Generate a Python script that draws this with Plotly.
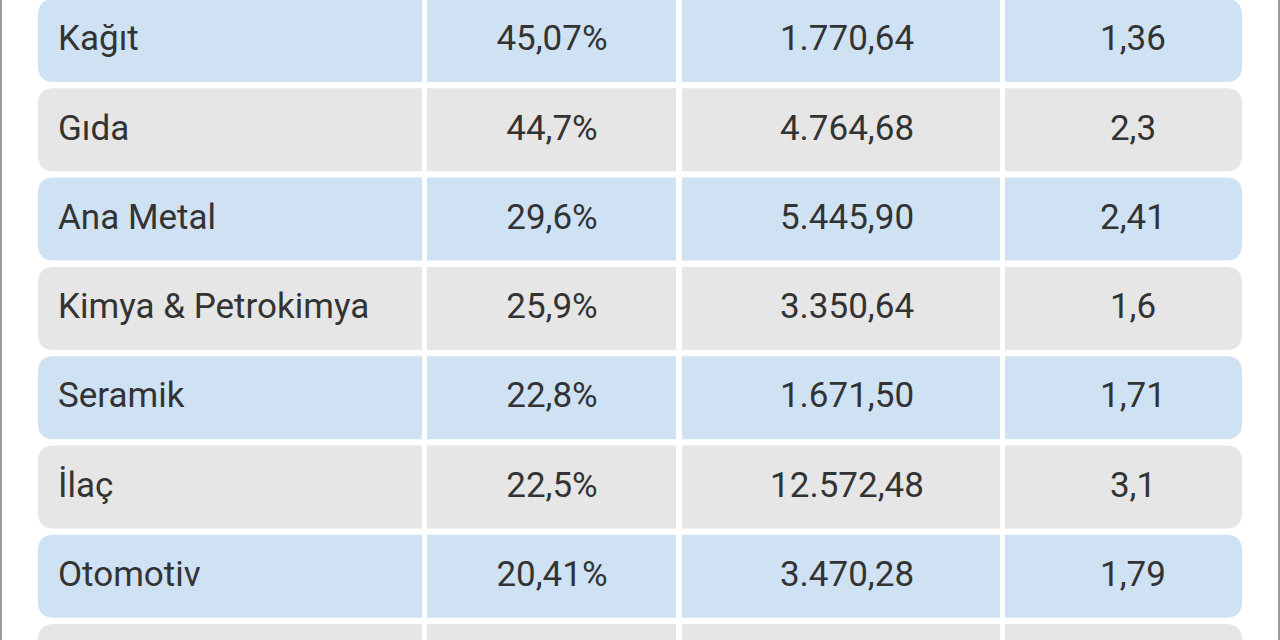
import plotly.graph_objects as go

sectors = ["Kağıt", "Gıda", "Ana Metal", "Kimya & Petrokimya", "Seramik", "İlaç", "Otomotiv", ""]
col2 = ["45,07%", "44,7%", "29,6%", "25,9%", "22,8%", "22,5%", "20,41%", ""]
col3 = ["1.770,64", "4.764,68", "5.445,90", "3.350,64", "1.671,50", "12.572,48", "3.470,28", ""]
col4 = ["1,36", "2,3", "2,41", "1,6", "1,71", "3,1", "1,79", ""]

BLUE = "#cfe2f3"
GRAY = "#e6e6e6"
col_bounds = [(38, 422), (427, 676), (682, 1000), (1005, 1242)]
text_x = [58, 552, 847, 1133]
pitch, height, top0, r = 89.3, 83, -1, 16

def rect_path(x0, x1, y0, y1, rl, rr):
    p = f"M {x0+rl},{y0} L {x1-rr},{y0} "
    p += f"Q {x1},{y0} {x1},{y0+rr} " if rr else ""
    p += f"L {x1},{y1-rr} "
    p += f"Q {x1},{y1} {x1-rr},{y1} " if rr else ""
    p += f"L {x0+rl},{y1} "
    p += f"Q {x0},{y1} {x0},{y1-rl} " if rl else ""
    p += f"L {x0},{y0+rl} "
    p += f"Q {x0},{y0} {x0+rl},{y0} " if rl else ""
    return p + "Z"

shapes = []
for i in range(len(sectors)):
    y0 = top0 + i * pitch
    y1 = y0 + height
    color = BLUE if i % 2 == 0 else GRAY
    for j, (x0, x1) in enumerate(col_bounds):
        rl = r if j == 0 else 0
        rr = r if j == 3 else 0
        shapes.append(dict(type="path", path=rect_path(x0, x1, y0, y1, rl, rr),
                           fillcolor=color, line=dict(width=0), layer="below"))
shapes.append(dict(type="line", x0=1, x1=1, y0=0, y1=640, line=dict(color="#9a9a9a", width=2)))
shapes.append(dict(type="line", x0=1279, x1=1279, y0=0, y1=640, line=dict(color="#9a9a9a", width=2)))

fig = go.Figure()
cols = [sectors, col2, col3, col4]
for j, vals in enumerate(cols):
    ys = [top0 + i * pitch + height / 2 + 1 for i in range(len(vals))]
    fig.add_trace(go.Scatter(
        x=[text_x[j]] * len(vals), y=ys, text=vals, mode="text",
        textposition="middle right" if j == 0 else "middle center",
        textfont=dict(family="Roboto", size=35, color="#333333"),
        hoverinfo="skip", showlegend=False))

fig.update_layout(
    width=1280, height=640, margin=dict(l=0, r=0, t=0, b=0),
    paper_bgcolor="white", plot_bgcolor="white", shapes=shapes,
    xaxis=dict(range=[0, 1280], visible=False, fixedrange=True),
    yaxis=dict(range=[640, 0], visible=False, fixedrange=True),
)
fig.write_html("out.html", config={"displayModeBar": False},
               post_script="document.body.style.margin='0';document.body.style.overflow='hidden';")
